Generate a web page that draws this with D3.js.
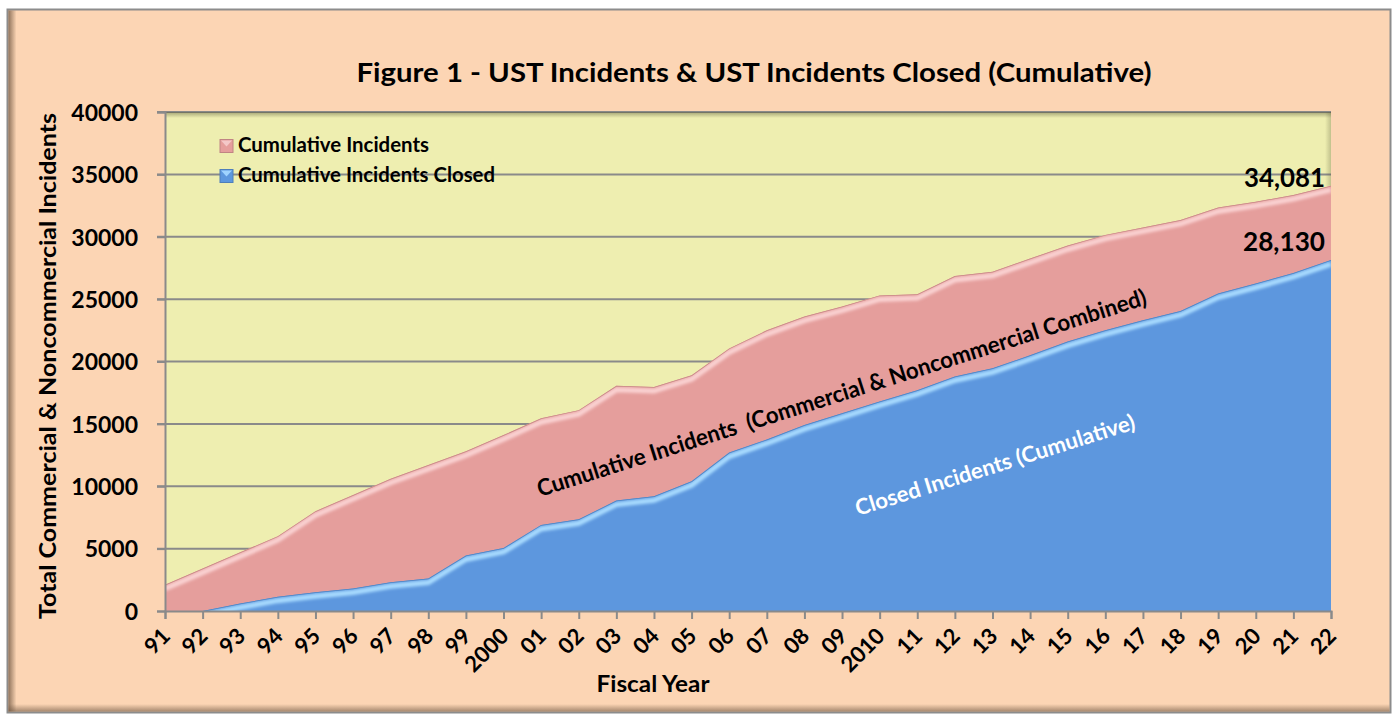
<!DOCTYPE html>
<html>
<head>
<meta charset="utf-8">
<script src="https://cdn.jsdelivr.net/npm/d3@7"></script>
<style>
  body { margin: 0; background: #fff; }
  svg text { font-family: Lato, "Open Sans", sans-serif; font-weight: bold; fill: #000; }
</style>
</head>
<body>
<svg id="chart" width="1395" height="715"></svg>
<script>
// fiscal years, as printed on the axis
const years = ["91", "92", "93", "94", "95", "96", "97", "98", "99", "2000",
    "01", "02", "03", "04", "05", "06", "07", "08", "09", "2010",
    "11", "12", "13", "14", "15", "16", "17", "18", "19", "20", "21", "22"];

// cumulative incidents (commercial & noncommercial combined)
const cumulativeIncidents = [2100, 3400, 4700, 6000, 8000, 9300, 10600, 11700, 12800, 14100,
    15450, 16100, 18050, 17950, 18900, 21050, 22500, 23600, 24400, 25300,
    25400, 26850, 27200, 28250, 29300, 30150, 30750, 31350, 32350, 32800, 33350, 34081];

// cumulative incidents closed
const closedIncidents = [0, 0, 600, 1150, 1500, 1800, 2300, 2600, 4450, 5050,
    6900, 7350, 8850, 9200, 10400, 12700, 13750, 14900, 15850, 16800,
    17700, 18800, 19450, 20500, 21600, 22500, 23300, 24050, 25450, 26250, 27100, 28130];

const yTicks = [0, 5000, 10000, 15000, 20000, 25000, 30000, 35000, 40000];

const seriesNames = ["Cumulative Incidents", "Cumulative Incidents Closed"];
const colors = { pink: "#e59e9c", blue: "#5d97de", plot: "#eeeeb0", page: "#fcd5b4", grid: "#8a8a8a" };

const svg = d3.select("#chart");
const defs = svg.append("defs");

// chart frame
svg.append("rect")
    .attr("x", 7.5).attr("y", 9.5)
    .attr("width", 1383).attr("height", 703)
    .attr("fill", colors.page)
    .attr("stroke", "#8c8c8c")
    .attr("stroke-width", 2);

// soft inner shadows on the frame's left and bottom edges
const gl = defs.append("linearGradient").attr("id", "shadowLeft");
gl.append("stop").attr("offset", "0%").attr("stop-color", "#6e5540").attr("stop-opacity", 0.75);
gl.append("stop").attr("offset", "100%").attr("stop-color", "#6e5540").attr("stop-opacity", 0);
svg.append("rect").attr("x", 8.5).attr("y", 10.5).attr("width", 8).attr("height", 701).attr("fill", "url(#shadowLeft)");

const gb = defs.append("linearGradient").attr("id", "shadowBottom")
    .attr("x1", 0).attr("y1", 1).attr("x2", 0).attr("y2", 0);
gb.append("stop").attr("offset", "0%").attr("stop-color", "#6e5540").attr("stop-opacity", 0.6);
gb.append("stop").attr("offset", "100%").attr("stop-color", "#6e5540").attr("stop-opacity", 0);
svg.append("rect").attr("x", 8.5).attr("y", 704).attr("width", 1381).attr("height", 7.5).attr("fill", "url(#shadowBottom)");

const margin = { left: 165, right: 1331, top: 112, bottom: 611 };

const x = d3.scalePoint()
    .domain(years)
    .range([margin.left, margin.right]);

const y = d3.scaleLinear()
    .domain([0, 40000])
    .range([margin.bottom, margin.top]);

// plot area
svg.append("rect")
    .attr("x", margin.left).attr("y", margin.top)
    .attr("width", margin.right - margin.left)
    .attr("height", margin.bottom - margin.top)
    .attr("fill", colors.plot);

// grid lines and left ticks
svg.append("g")
    .selectAll("line")
    .data(yTicks.filter(d => d > 0))
    .join("line")
    .attr("x1", margin.left - 8).attr("x2", margin.right)
    .attr("y1", d => y(d)).attr("y2", d => y(d))
    .attr("stroke", colors.grid)
    .attr("stroke-width", 2);

const blur = defs.append("filter").attr("id", "soft")
    .attr("x", "-5%").attr("y", "-5%").attr("width", "110%").attr("height", "110%");
blur.append("feGaussianBlur").attr("stdDeviation", 1.6);

function drawArea(values, fill, light, id) {
    const area = d3.area()
        .x((d, i) => x(years[i]))
        .y0(y(0))
        .y1(d => y(d));
    const line = d3.line()
        .x((d, i) => x(years[i]))
        .y(d => y(d));

    defs.append("clipPath").attr("id", id)
        .append("path").attr("d", area(values));

    svg.append("path")
        .attr("d", area(values))
        .attr("fill", fill);

    // bevel highlight along the top edge
    const g = svg.append("g").attr("clip-path", `url(#${id})`);
    g.append("path")
        .attr("d", line(values))
        .attr("transform", "translate(0,4)")
        .attr("fill", "none")
        .attr("stroke", light)
        .attr("stroke-width", 5)
        .attr("filter", "url(#soft)");
    g.append("path")
        .attr("d", line(values))
        .attr("fill", "none")
        .attr("stroke", d3.color(fill).darker(0.4))
        .attr("stroke-width", 1.5);
    // darker edges at the bottom and on the right side
    g.append("line")
        .attr("x1", margin.left).attr("x2", margin.right)
        .attr("y1", y(0) - 2).attr("y2", y(0) - 2)
        .attr("stroke", d3.color(fill).darker(0.6))
        .attr("stroke-width", 5)
        .attr("filter", "url(#soft)");
    g.append("line")
        .attr("x1", margin.right - 2).attr("x2", margin.right - 2)
        .attr("y1", margin.top).attr("y2", margin.bottom)
        .attr("stroke", d3.color(fill).darker(0.6))
        .attr("stroke-width", 4)
        .attr("filter", "url(#soft)");
}

drawArea(cumulativeIncidents, colors.pink, "#fad2d2", "clipPink");
drawArea(closedIncidents, colors.blue, "#a9dcff", "clipBlue");

// shadow along the top and right of the plot area
const gt = defs.append("linearGradient").attr("id", "shadowTop")
    .attr("x1", 0).attr("y1", 0).attr("x2", 0).attr("y2", 1);
gt.append("stop").attr("offset", "0%").attr("stop-color", "#5a5a3a").attr("stop-opacity", 0.5);
gt.append("stop").attr("offset", "100%").attr("stop-color", "#5a5a3a").attr("stop-opacity", 0);
svg.append("rect").attr("x", margin.left).attr("y", margin.top)
    .attr("width", margin.right - margin.left).attr("height", 6).attr("fill", "url(#shadowTop)");

const gr = defs.append("linearGradient").attr("id", "shadowRight");
gr.append("stop").attr("offset", "0%").attr("stop-color", "#5a5a3a").attr("stop-opacity", 0);
gr.append("stop").attr("offset", "100%").attr("stop-color", "#5a5a3a").attr("stop-opacity", 0.3);
svg.append("rect").attr("x", margin.right - 6).attr("y", margin.top)
    .attr("width", 6).attr("height", y(cumulativeIncidents[years.length - 1]) - margin.top)
    .attr("fill", "url(#shadowRight)");

// axes
const yAxis = svg.append("g")
    .attr("transform", `translate(${margin.left},0)`)
    .call(d3.axisLeft(y).tickValues(yTicks).tickFormat(d3.format("d")).tickSize(8).tickPadding(19));
const xAxis = svg.append("g")
    .attr("transform", `translate(0,${margin.bottom})`)
    .call(d3.axisBottom(x).tickSize(8).tickFormat(""));

[yAxis, xAxis].forEach(a => {
    a.select(".domain").attr("stroke", colors.grid).attr("stroke-width", 2);
    a.selectAll(".tick line").attr("stroke", colors.grid).attr("stroke-width", 2);
});
yAxis.selectAll(".tick text")
    .style("font-size", "23px")
    .attr("dy", "0.36em");

// rotated year labels
svg.append("g")
    .selectAll("text")
    .data(years)
    .join("text")
    .attr("text-anchor", "end")
    .attr("dy", "0.35em")
    .attr("transform", d => `translate(${x(d) + 1},632) rotate(-45)`)
    .style("font-size", "22px")
    .text(d => d);

// titles
svg.append("text")
    .attr("x", 754).attr("y", 82)
    .attr("text-anchor", "middle")
    .attr("textLength", 795)
    .attr("lengthAdjust", "spacingAndGlyphs")
    .style("font-size", "27px")
    .text("Figure 1 - UST Incidents & UST Incidents Closed (Cumulative)");

svg.append("text")
    .attr("transform", "translate(56,366) rotate(-90)")
    .attr("text-anchor", "middle")
    .attr("textLength", 506)
    .attr("lengthAdjust", "spacingAndGlyphs")
    .style("font-size", "23px")
    .text("Total Commercial & Noncommercial Incidents");

svg.append("text")
    .attr("x", 653).attr("y", 692)
    .attr("text-anchor", "middle")
    .attr("textLength", 113)
    .attr("lengthAdjust", "spacingAndGlyphs")
    .style("font-size", "22px")
    .text("Fiscal Year");

// legend
const legend = svg.append("g");
const legendRows = [
    { name: seriesNames[0], fill: colors.pink, light: "#f4c8c8", y: 145.5, w: 191 },
    { name: seriesNames[1], fill: colors.blue, light: "#9fd3ff", y: 175.5, w: 257 }
];
legendRows.forEach(r => {
    legend.append("rect")
        .attr("x", 220).attr("y", r.y - 6)
        .attr("width", 13).attr("height", 13)
        .attr("fill", r.fill)
        .attr("stroke", d3.color(r.fill).darker(0.5))
        .attr("stroke-width", 1);
    legend.append("path")
        .attr("d", `M221,${r.y - 5} L232,${r.y - 5} L226.5,${r.y + 1} Z`)
        .attr("fill", r.light);
    legend.append("text")
        .attr("x", 238).attr("y", r.y + 6)
        .attr("textLength", r.w)
        .attr("lengthAdjust", "spacingAndGlyphs")
        .style("font-size", "20px")
        .text(r.name);
});

// in-chart annotations
svg.append("text")
    .attr("transform", "translate(540,497) rotate(-17.6)")
    .attr("textLength", 638)
    .attr("lengthAdjust", "spacingAndGlyphs")
    .style("font-size", "23px")
    .style("white-space", "pre")
    .text("Cumulative Incidents  (Commercial & Noncommercial Combined)");

svg.append("text")
    .attr("transform", "translate(858,516) rotate(-17.4)")
    .attr("textLength", 292)
    .attr("lengthAdjust", "spacingAndGlyphs")
    .style("font-size", "22px")
    .style("fill", "#fff")
    .text("Closed Incidents (Cumulative)");

// end value labels
const last = years.length - 1;
svg.append("text")
    .attr("x", x(years[last]) - 6).attr("y", y(cumulativeIncidents[last]) + 1)
    .attr("text-anchor", "end")
    .attr("textLength", 81)
    .attr("lengthAdjust", "spacingAndGlyphs")
    .style("font-size", "27px")
    .text(d3.format(",")(cumulativeIncidents[last]));
svg.append("text")
    .attr("x", x(years[last]) - 6).attr("y", y(closedIncidents[last]) - 9)
    .attr("text-anchor", "end")
    .attr("textLength", 82)
    .attr("lengthAdjust", "spacingAndGlyphs")
    .style("font-size", "27px")
    .text(d3.format(",")(closedIncidents[last]));
</script>
</body>
</html>
